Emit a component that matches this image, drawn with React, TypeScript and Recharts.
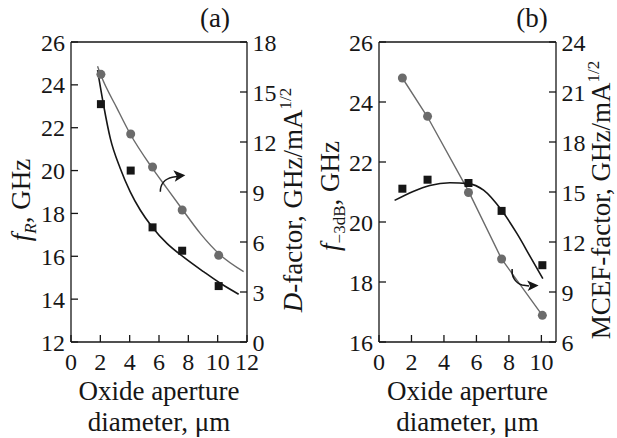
import React from "react"
import {
  ComposedChart,
  Line,
  Scatter,
  XAxis,
  YAxis,
  ReferenceLine,
  ReferenceDot,
} from "recharts"

const FONT = '"Liberation Serif", "Times New Roman", serif'
const INK = "#161616"
const GREY = "#6b6b6b"

// (a) measured resonance frequency and D-factor vs oxide aperture
const apertureA = [2.04, 4.07, 5.56, 7.58, 10.07]
const resonanceFreq = [23.1, 20.0, 17.35, 16.26, 14.61]
const dFactor = [16.06, 12.48, 10.5, 7.92, 5.2]

// (a) fitted curves
const fitFrX = [1.81, 2.22, 2.68, 3.36, 4.04, 4.72, 5.52, 6.54, 7.68, 9.04, 10.18, 11.43]
const fitFr = [24.69, 23.06, 21.5, 20.1, 19.01, 18.16, 17.38, 16.6, 15.96, 15.28, 14.74, 14.23]
const fitDX = [1.81, 2.04, 3.14, 4.04, 5.52, 6.54, 7.57, 8.81, 10.18, 11.77]
const fitD = [16.55, 16.0, 14.02, 12.48, 10.46, 9.22, 7.98, 6.52, 5.22, 4.22]

// (b) measured -3 dB bandwidth and MCEF vs oxide aperture
const apertureB = [1.44, 2.99, 5.51, 7.55, 10.06]
const cutoffFreq = [21.11, 21.41, 21.3, 20.37, 18.56]
const mcefFactor = [21.84, 19.54, 14.97, 10.98, 7.6]

// (b) fitted curves
const fitF3dbX = [0.96, 2.1, 3.13, 4.37, 5.51, 6.44, 7.55, 8.5, 9.33, 10.09]
const fitF3db = [20.72, 21.02, 21.22, 21.31, 21.28, 21.06, 20.39, 19.61, 18.83, 18.11]
const fitMcefX = [1.44, 2.99, 5.51, 7.55, 10.06]
const fitMcef = [21.84, 19.5, 15.05, 10.98, 7.6]

const ticksA = [0, 2, 4, 6, 8, 10, 12]
const frTicks = [12, 14, 16, 18, 20, 22, 24, 26]
const dTicks = [0, 3, 6, 9, 12, 15, 18]
const ticksB = [0, 2, 4, 6, 8, 10]
const f3dbTicks = [16, 18, 20, 22, 24, 26]
const mcefTicks = [6, 9, 12, 15, 18, 21, 24]

const toPoints = (xs: number[], ys: number[]) => xs.map((x, i) => ({ x, y: ys[i] }))

const tickStyle = { fill: INK, fontSize: 24, fontFamily: FONT }
const axisStroke = { stroke: INK, strokeWidth: 1.3 }

const Square = (props: any) => (
  <rect x={props.cx - 4} y={props.cy - 4} width={8} height={8} fill={INK} />
)
const Circle = (props: any) => <circle cx={props.cx} cy={props.cy} r={4.5} fill={GREY} />

// rotated axis title; dx is the baseline offset from the axis box's left edge
const verticalTitle = (dx: number, dy: number, parts: React.ReactNode) => (props: any) => {
  const { x, y, height } = props.viewBox
  const cx = x + dx
  const cy = y + height / 2 + dy
  return (
    <text
      x={cx}
      y={cy}
      transform={`rotate(-90 ${cx} ${cy})`}
      textAnchor="middle"
      fontFamily={FONT}
      fontSize={27}
      fill={INK}
    >
      {parts}
    </text>
  )
}

const apertureTitle = (props: any) => {
  const { x, y, width } = props.viewBox
  const cx = x + width / 2
  return (
    <text textAnchor="middle" fontFamily={FONT} fontSize={27} fill={INK}>
      <tspan x={cx} y={y + 58}>Oxide aperture</tspan>
      <tspan x={cx} y={y + 89}>diameter, μm</tspan>
    </text>
  )
}

const panelTitle = (label: string, dx: number) => (props: any) => {
  const { x, y } = props.viewBox
  return (
    <text x={x + dx} y={y - 15} textAnchor="middle" fontFamily={FONT} fontSize={27} fill={INK}>
      {label}
    </text>
  )
}

// curved "belongs to right axis" arrows
const ArrowUp = (props: any) => {
  const { cx, cy } = props
  return (
    <g transform={`translate(${cx},${cy})`}>
      <path d="M0,0 C0,-8 5,-13 12,-14.5 L18,-15.5" fill="none" stroke={INK} strokeWidth={1.5} />
      <path d="M25,-16.5 L13,-21.5 L16.5,-15.5 L14.5,-10 Z" fill={INK} />
    </g>
  )
}
const ArrowDown = (props: any) => {
  const { cx, cy } = props
  return (
    <g transform={`translate(${cx},${cy})`}>
      <path d="M0,0 C-1,7 3,14 10,16 L17,17" fill="none" stroke={INK} strokeWidth={1.5} />
      <path d="M26.5,16.5 L15,11.5 L18,17 L15.5,22 Z" fill={INK} />
    </g>
  )
}

const PanelA = () => (
  <ComposedChart width={310} height={438} margin={{ top: 42, right: 0, bottom: 0, left: 0 }}>
    <XAxis
      type="number"
      dataKey="x"
      domain={[0, 12]}
      ticks={ticksA}
      height={96}
      tickSize={-7}
      tickMargin={18}
      tick={tickStyle}
      axisLine={axisStroke}
      tickLine={axisStroke}
      label={apertureTitle}
    />
    <YAxis
      yAxisId="l"
      domain={[12, 26]}
      ticks={frTicks}
      width={71}
      tickSize={-7}
      tickMargin={13}
      tick={tickStyle}
      axisLine={axisStroke}
      tickLine={axisStroke}
      label={verticalTitle(29.5, 8, (
        <>
          <tspan fontStyle="italic">f</tspan>
          <tspan fontStyle="italic" fontSize={17} dy={6}>R</tspan>
          <tspan dy={-6}>, GHz</tspan>
        </>
      ))}
    />
    <YAxis
      yAxisId="r"
      orientation="right"
      domain={[0, 18]}
      ticks={dTicks}
      width={63}
      tickSize={-7}
      tickMargin={12.5}
      tick={tickStyle}
      axisLine={axisStroke}
      tickLine={axisStroke}
      label={verticalTitle(54.5, 8, (
        <>
          <tspan fontStyle="italic">D</tspan>
          <tspan>-factor, GHz/mA</tspan>
          <tspan fontSize={17} dy={-11}>1/2</tspan>
        </>
      ))}
    />
    <ReferenceLine yAxisId="l" y={26} stroke={INK} strokeWidth={1.3} label={panelTitle("(a)", 144)} />
    <Line yAxisId="r" data={toPoints(fitDX, fitD)} dataKey="y" type="monotone" stroke={GREY} strokeWidth={1.4} dot={false} isAnimationActive={false} />
    <Line yAxisId="l" data={toPoints(fitFrX, fitFr)} dataKey="y" type="monotone" stroke={INK} strokeWidth={1.6} dot={false} isAnimationActive={false} />
    <Scatter yAxisId="r" data={toPoints(apertureA, dFactor)} dataKey="y" shape={Circle} isAnimationActive={false} />
    <Scatter yAxisId="l" data={toPoints(apertureA, resonanceFreq)} dataKey="y" shape={Square} isAnimationActive={false} />
    <ReferenceDot yAxisId="r" x={6.09} y={9.02} shape={ArrowUp} />
  </ComposedChart>
)

const PanelB = () => (
  <ComposedChart width={307} height={438} margin={{ top: 42, right: 0, bottom: 0, left: 0 }}>
    <XAxis
      type="number"
      dataKey="x"
      domain={[0, 10.9]}
      ticks={ticksB}
      height={96}
      tickSize={-7}
      tickMargin={18}
      tick={tickStyle}
      axisLine={axisStroke}
      tickLine={axisStroke}
      label={apertureTitle}
    />
    <YAxis
      yAxisId="l"
      domain={[16, 26]}
      ticks={f3dbTicks}
      width={69}
      tickSize={-7}
      tickMargin={13}
      tick={tickStyle}
      axisLine={axisStroke}
      tickLine={axisStroke}
      label={verticalTitle(28.5, 4, (
        <>
          <tspan fontStyle="italic">f</tspan>
          <tspan fontSize={17} dy={6}>−3dB</tspan>
          <tspan dy={-6}>, GHz</tspan>
        </>
      ))}
    />
    <YAxis
      yAxisId="r"
      orientation="right"
      domain={[6, 24]}
      ticks={mcefTicks}
      width={61}
      tickSize={-7}
      tickMargin={12.5}
      tick={tickStyle}
      axisLine={axisStroke}
      tickLine={axisStroke}
      label={verticalTitle(53.5, 8, (
        <>
          <tspan>MCEF-factor, GHz/mA</tspan>
          <tspan fontSize={17} dy={-11}>1/2</tspan>
        </>
      ))}
    />
    <ReferenceLine yAxisId="l" y={26} stroke={INK} strokeWidth={1.3} label={panelTitle("(b)", 153)} />
    <Line yAxisId="r" data={toPoints(fitMcefX, fitMcef)} dataKey="y" type="linear" stroke={GREY} strokeWidth={1.4} dot={false} isAnimationActive={false} />
    <Line yAxisId="l" data={toPoints(fitF3dbX, fitF3db)} dataKey="y" type="monotone" stroke={INK} strokeWidth={1.6} dot={false} isAnimationActive={false} />
    <Scatter yAxisId="r" data={toPoints(apertureB, mcefFactor)} dataKey="y" shape={Circle} isAnimationActive={false} />
    <Scatter yAxisId="l" data={toPoints(apertureB, cutoffFreq)} dataKey="y" shape={Square} isAnimationActive={false} />
    <ReferenceDot yAxisId="r" x={8.2} y={10.38} shape={ArrowDown} />
  </ComposedChart>
)

export default function App() {
  return (
    <div style={{ position: "absolute", left: 0, top: 0, width: 617, height: 438, background: "#fff" }}>
      <div style={{ position: "absolute", left: 0, top: 0 }}>
        <PanelA />
      </div>
      <div style={{ position: "absolute", left: 310, top: 0 }}>
        <PanelB />
      </div>
    </div>
  )
}
